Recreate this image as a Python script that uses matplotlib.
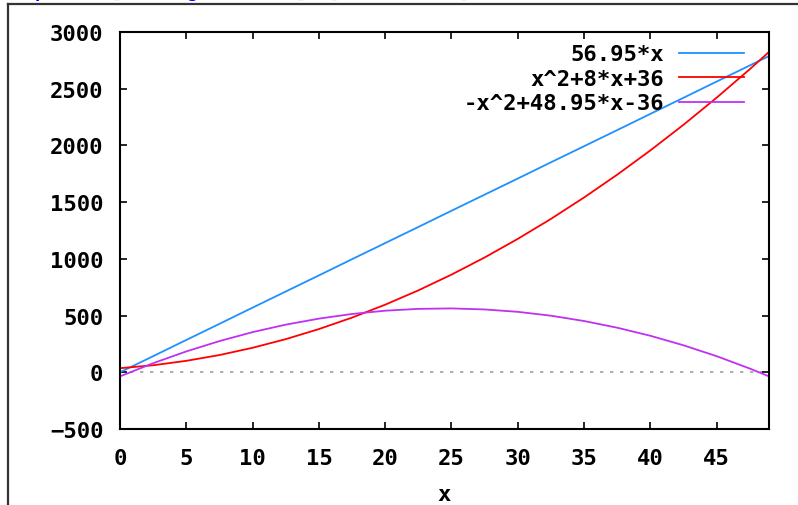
import matplotlib
matplotlib.use("Agg")
import matplotlib.pyplot as plt
from matplotlib.lines import Line2D

# sample points
xs = [0, 2.5, 5, 7.5, 10, 12.5, 15, 17.5, 20, 22.5, 25, 27.5, 30, 32.5, 35,
      37.5, 40, 42.5, 45, 47.5, 48.95]
lin = [0, 142, 285, 427, 570, 712, 854, 997, 1139, 1281, 1424, 1566, 1708,
       1851, 1993, 2135, 2278, 2420, 2563, 2705, 2788]
quad_up = [36, 62, 101, 152, 216, 292, 381, 482, 596, 722, 861, 1012, 1176,
           1352, 1541, 1742, 1956, 2182, 2421, 2672, 2824]
quad_down = [-36, 80, 184, 275, 354, 420, 473, 514, 543, 559, 563, 554, 533,
             499, 452, 393, 322, 238, 142, 33, -36]
labels = ["56.95*x", "x^2+8*x+36", "-x^2+48.95*x-36"]
colors = ["#1e90ff", "#ff0000", "#c030f0"]
xticks = [0, 5, 10, 15, 20, 25, 30, 35, 40, 45]
yticks = [-500, 0, 500, 1000, 1500, 2000, 2500, 3000]

mono = {"family": "DejaVu Sans Mono", "weight": "bold"}
fs = 16

fig = plt.figure(figsize=(7.98, 5.06), dpi=100)
ax = fig.add_axes([120/798, 1 - 430/506, 649/798, 397/506])

ax.axhline(0, color="#a0a0a0", lw=1.2, ls=(0, (2, 4)), zorder=1)
for ys, c, lab in zip([lin, quad_up, quad_down], colors, labels):
    ax.plot(xs, ys, color=c, lw=1.3, label=lab, zorder=2)

ax.set_xlim(0, 48.95)
ax.set_ylim(-500, 3000)
ax.set_xticks(xticks)
ax.set_yticks(yticks)
ax.tick_params(direction="in", length=5, width=1.2, top=True, right=True,
               labelsize=fs)
ax.tick_params(axis="y", pad=12)
ax.tick_params(axis="x", pad=14)
for t in ax.get_xticklabels() + ax.get_yticklabels():
    t.set_fontfamily(mono["family"])
    t.set_fontweight("bold")
for s in ax.spines.values():
    s.set_linewidth(1.5)
ax.set_xlabel("x", fontsize=fs, labelpad=11, **mono)

leg = ax.legend(loc="upper right", frameon=False, markerfirst=False,
                handlelength=2.9, handletextpad=0.7, labelspacing=0.2,
                borderaxespad=0.0, bbox_to_anchor=(0.975, 0.991),
                prop={"family": mono["family"], "weight": "bold", "size": fs})

# page frame and clipped code line above the image
fig.add_artist(Line2D([8/798, 8/798], [0, 1 - 5/506], color="#333333", lw=1.6))
fig.add_artist(Line2D([8/798, 1], [1 - 5/506, 1 - 5/506], color="#333333", lw=1.6))
fig.text(35/798, 1 + 8/506, "plot2d([f(x), g(x), h(x)], [x, 0, 48.95]);",
         color="#0000ff", fontsize=13, family="DejaVu Sans Mono",
         weight="bold", va="center")

fig.savefig("out.png", dpi=100)
